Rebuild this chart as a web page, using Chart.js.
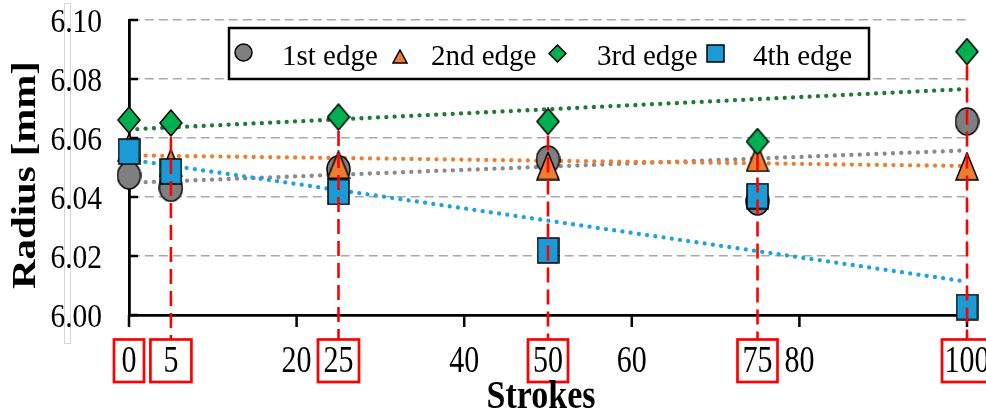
<!DOCTYPE html>
<html>
<head>
<meta charset="utf-8">
<script src="https://cdn.jsdelivr.net/npm/chart.js@4.4.1/dist/chart.umd.min.js"></script>
<style>
  html, body { margin: 0; padding: 0; background: #fff; overflow: hidden; }
  #wrap { width: 986px; height: 414px; }
</style>
</head>
<body>
<div id="wrap"><canvas id="c" width="986" height="414"></canvas></div>
<script>
// ---- data -------------------------------------------------------------
const strokes = [0, 5, 25, 50, 75, 100];
const edge1 = [6.0473, 6.0431, 6.0494, 6.0527, 6.0385, 6.0656];
const edge2 = [6.0568, 6.0516, 6.0509, 6.0505, 6.0533, 6.0504];
const edge3 = [6.0661, 6.0651, 6.0671, 6.0656, 6.0588, 6.0893];
const edge4 = [6.0554, 6.0487, 6.0417, 6.0219, 6.0403, 6.0027];

// linear trend lines (start and end values)
const trendX = [0, 100];
const trend1 = [6.0448, 6.0558];
const trend2 = [6.0541, 6.0505];
const trend3 = [6.0629, 6.0766];
const trend4 = [6.0527, 6.0113];

const seriesLabels = ['1st edge', '2nd edge', '3rd edge', '4th edge'];
const xTickMarks = [0, 20, 40, 60, 80, 100];
const xPlainLabels = [20, 40, 60, 80];
const yTickValues = [6.00, 6.02, 6.04, 6.06, 6.08, 6.10];
const xTitle = 'Strokes';
const yTitle = 'Radius [mm]';

// ---- styles -----------------------------------------------------------
const FONT = '"Liberation Serif", "Times New Roman", serif';
const RED = '#ff0000';
const boxWidths = { 0: 30, 5: 41, 25: 41, 50: 40, 75: 40, 100: 50 };
const legendLayout = [
  { mx: 243, my: 52.5, tx: 282 },
  { mx: 400, my: 56, tx: 431 },
  { mx: 557, my: 53, tx: 597 },
  { mx: 715, my: 53, tx: 753 }
];

function marker(shape, w, h, fill) {
  const c = document.createElement('canvas');
  c.width = w; c.height = h;
  const g = c.getContext('2d');
  const m = 1;
  g.beginPath();
  if (shape === 'circle') {
    g.ellipse(w / 2, h / 2, w / 2 - m, h / 2 - m, 0, 0, Math.PI * 2);
  } else if (shape === 'triangle') {
    g.moveTo(w / 2, m); g.lineTo(w - m, h - m); g.lineTo(m, h - m); g.closePath();
  } else if (shape === 'diamond') {
    g.moveTo(w / 2, m); g.lineTo(w - m, h / 2); g.lineTo(w / 2, h - m); g.lineTo(m, h / 2); g.closePath();
  } else {
    g.rect(m, m, w - 2 * m, h - 2 * m);
  }
  g.fillStyle = fill; g.fill();
  g.lineWidth = 1.5; g.strokeStyle = '#000'; g.stroke();
  return c;
}

const fills = ['#7f7f7f', '#ed7d31', '#00b050', '#1b9ad6'];
const trendColors = ['#8a8a8a', '#ed7d31', '#1f7a34', '#1fa2de'];
const plotMarkers = [
  marker('circle', 25, 29, fills[0]),
  marker('triangle', 24, 29, fills[1]),
  marker('diamond', 24, 28, fills[2]),
  marker('square', 23, 27, fills[3])
];
const legendMarkers = [
  marker('circle', 19, 19, fills[0]),
  marker('triangle', 16, 15, fills[1]),
  marker('diamond', 19, 19, fills[2]),
  marker('square', 19, 19, fills[3])
];

const series = [edge1, edge2, edge3, edge4];
const trends = [trend1, trend2, trend3, trend4];

const datasets = [];
trends.forEach((t, i) => {
  datasets.push({
    label: seriesLabels[i] + ' trend',
    data: trendX.map((x, k) => ({ x, y: t[k] })),
    showLine: true,
    borderColor: trendColors[i],
    borderWidth: 4.3,
    borderDash: [0.01, 8.3],
    borderCapStyle: 'round',
    pointRadius: 0,
    fill: false,
    order: 20 - i,
    clip: false
  });
});
series.forEach((s, i) => {
  datasets.push({
    label: seriesLabels[i],
    data: strokes.map((x, k) => ({ x, y: s[k] })),
    showLine: false,
    pointStyle: plotMarkers[i],
    pointRadius: 12,
    pointHoverRadius: 12,
    order: 3 - i,
    clip: false
  });
});

function stretchText(ctx, text, x, y, font, sy, align) {
  ctx.save();
  ctx.translate(x, y);
  ctx.scale(1, sy);
  ctx.font = font;
  ctx.textAlign = align;
  ctx.textBaseline = 'alphabetic';
  ctx.fillStyle = '#000';
  ctx.fillText(text, 0, 0);
  ctx.restore();
}

const overlay = {
  id: 'overlay',
  beforeDatasetsDraw(chart) {
    const { ctx, chartArea: a, scales: { x, y } } = chart;
    ctx.save();
    ctx.strokeStyle = '#000';
    ctx.lineWidth = 2.5;
    yTickValues.forEach(v => {
      const py = y.getPixelForValue(v);
      ctx.beginPath(); ctx.moveTo(a.left, py); ctx.lineTo(a.left + 9, py); ctx.stroke();
    });
    xTickMarks.forEach(v => {
      const px = x.getPixelForValue(v);
      ctx.beginPath(); ctx.moveTo(px, a.bottom); ctx.lineTo(px, a.bottom + 12); ctx.stroke();
    });
    // thin frame left of the value axis
    ctx.strokeStyle = '#d6d6d6';
    ctx.lineWidth = 1;
    ctx.strokeRect(64.5, 3.5, 6, 340);
    ctx.restore();
  },
  afterDatasetsDraw(chart) {
    const { ctx, scales: { x, y } } = chart;
    ctx.save();
    // guide lines from the 3rd-edge marker down to the boxed stroke labels
    ctx.strokeStyle = RED;
    ctx.lineWidth = 2.6;
    ctx.setLineDash([15, 7]);
    strokes.forEach((s, i) => {
      if (s === 0) return;
      const px = x.getPixelForValue(s);
      const top = y.getPixelForValue(edge3[i]) + 14;
      ctx.beginPath(); ctx.moveTo(px, top); ctx.lineTo(px, 339); ctx.stroke();
    });
    ctx.setLineDash([]);

    // legend
    ctx.fillStyle = '#fff';
    ctx.fillRect(229, 28, 640, 51);
    ctx.strokeStyle = '#000';
    ctx.lineWidth = 2.5;
    ctx.strokeRect(229, 28, 640, 51);
    legendLayout.forEach((p, i) => {
      const img = legendMarkers[i];
      ctx.drawImage(img, Math.round(p.mx - img.width / 2), Math.round(p.my - img.height / 2));
      stretchText(ctx, seriesLabels[i], p.tx, 65, '29px ' + FONT, 1, 'left');
    });
    ctx.restore();
  },
  afterDraw(chart) {
    const { ctx, scales: { x, y } } = chart;
    ctx.save();
    // value axis labels
    yTickValues.forEach(v => {
      const py = y.getPixelForValue(v);
      stretchText(ctx, v.toFixed(2), 102, py + 11.7, '29.5px ' + FONT, 1.17, 'right');
    });
    // stroke axis labels
    xPlainLabels.forEach(v => {
      stretchText(ctx, String(v), x.getPixelForValue(v), 371.7, '30px ' + FONT, 1.23, 'center');
    });
    strokes.forEach(s => {
      const px = x.getPixelForValue(s);
      stretchText(ctx, String(s), px, 371.7, '30px ' + FONT, 1.23, 'center');
      const w = boxWidths[s];
      ctx.strokeStyle = RED;
      ctx.lineWidth = 2.7;
      ctx.strokeRect(px - w / 2, 339.5, w, 42.5);
    });
    // axis titles
    stretchText(ctx, xTitle, 541, 408, 'bold 34px ' + FONT, 1.2, 'center');
    ctx.save();
    ctx.translate(26, 175);
    ctx.rotate(-Math.PI / 2);
    ctx.scale(1.2, 1);
    ctx.font = 'bold 34px ' + FONT;
    ctx.textAlign = 'center';
    ctx.textBaseline = 'middle';
    ctx.fillStyle = '#000';
    ctx.fillText(yTitle, 0, 0);
    ctx.restore();
    ctx.restore();
  }
};

new Chart(document.getElementById('c'), {
  type: 'scatter',
  data: { datasets },
  options: {
    responsive: false,
    animation: false,
    devicePixelRatio: 1,
    layout: { autoPadding: false, padding: { top: 20, right: 19, bottom: 0, left: 0 } },
    plugins: { legend: { display: false }, tooltip: { enabled: false } },
    scales: {
      x: {
        type: 'linear',
        min: 0, max: 100,
        ticks: { display: false, stepSize: 20 },
        grid: { display: false },
        border: { display: true, color: '#000', width: 2.8 },
        afterFit(s) { s.height = 99; }
      },
      y: {
        type: 'linear',
        min: 6.0, max: 6.1,
        ticks: { display: false, stepSize: 0.02 },
        grid: { color: '#a9a9a9', lineWidth: 1.6, drawTicks: false },
        border: { display: true, color: '#000', width: 2.8, dash: [9, 5] },
        afterFit(s) { s.width = 129; }
      }
    }
  },
  plugins: [overlay]
});
</script>
</body>
</html>
